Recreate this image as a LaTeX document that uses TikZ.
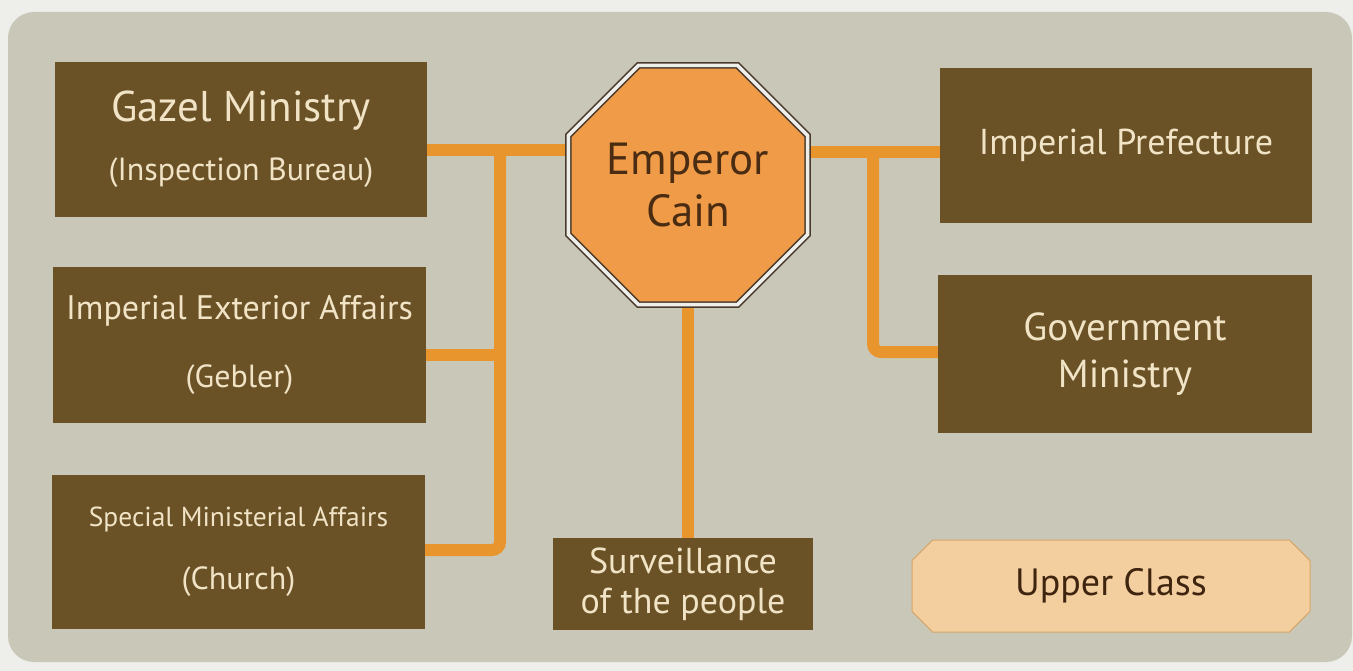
\documentclass[tikz,border=0pt]{standalone}
\usepackage{fontspec}
\setmainfont{PT Sans}
\usetikzlibrary{shapes.geometric,shapes.misc,backgrounds}
\definecolor{pagebg}{HTML}{EEEEEA}
\definecolor{panel}{HTML}{C9C8B8}
\definecolor{boxfill}{HTML}{6B5226}
\definecolor{boxtext}{HTML}{F0E3C6}
\definecolor{conn}{HTML}{E9952E}
\definecolor{octfill}{HTML}{F09B48}
\definecolor{octline}{HTML}{4A3A2C}
\definecolor{darktext}{HTML}{4A2C12}
\definecolor{upfill}{HTML}{F3CFA0}
\definecolor{upline}{HTML}{D6A56A}
\tikzset{
  box/.style={rectangle, fill=boxfill, text=boxtext, align=center, inner sep=0pt},
  connector/.style={draw=conn, line width=12pt},
}
\begin{document}
\begin{tikzpicture}[x=1pt,y=-1pt]
\useasboundingbox (0,0) rectangle (1353,671);

\node[box, minimum width=372pt, minimum height=155pt] (gazel) at (241,139.5)
  {{\fontsize{43}{48}\selectfont Gazel Ministry}\\[26pt]{\fontsize{32}{36}\selectfont (Inspection Bureau)}};
\node[box, minimum width=373pt, minimum height=156pt] (exterior) at (239.5,345)
  {{\fontsize{34}{40}\selectfont Imperial Exterior Affairs}\\[38pt]{\fontsize{32}{36}\selectfont (Gebler)}};
\node[box, minimum width=373pt, minimum height=154pt] (special) at (238.5,552)
  {{\fontsize{27.5}{32}\selectfont Special Ministerial Affairs}\\[34pt]{\fontsize{32}{36}\selectfont (Church)}};
\node[box, minimum width=260pt, minimum height=92pt, font=\fontsize{36}{40}\selectfont] (surv) at (683,584)
  {Surveillance\\of the people};
\node[box, minimum width=372pt, minimum height=155pt, font=\fontsize{36}{40}\selectfont] (prefecture) at (1126,145.5)
  {Imperial Prefecture};
\node[box, minimum width=374pt, minimum height=157pt, font=\fontsize{39}{47}\selectfont] (government) at (1125,354)
  {Government\\Ministry};
\node[regular polygon, regular polygon sides=8, minimum size=259pt, inner sep=0pt,
  fill=octfill, draw=octline, line width=1.6pt, double=pagebg, double distance=3.5pt,
  text=darktext, align=center, font=\fontsize{45}{52}\selectfont] (emp) at (688,185)
  {Emperor\\Cain};
\node[chamfered rectangle, chamfered rectangle corners={north west,south west,north east,south east},
  chamfered rectangle angle=45, chamfered rectangle xsep=30pt,
  minimum width=398pt, minimum height=92pt, inner sep=0pt,
  fill=upfill, draw=upline, line width=1pt, text=darktext!85!black,
  font=\fontsize{38}{44}\selectfont] (upper) at (1111,586) {Upper Class};

\coordinate (jl) at (500,150);
\coordinate (jlm) at (500,355);
\coordinate (jlb) at (500,550);
\coordinate (jr) at (873,152);
\coordinate (jrb) at (873,352);

\begin{scope}[on background layer]
\fill[pagebg] (0,0) rectangle (1353,671);
\fill[panel, rounded corners=26pt] (8,12) rectangle (1352,662);
\draw[connector] (gazel.east |- jl) -- (emp.west |- jl);
\draw[connector, rounded corners=8pt] (jl) -- (jlb) -- (special.east |- jlb);
\draw[connector] (exterior.east |- jlm) -- (jlm);
\draw[connector] (emp.east |- jr) -- (prefecture.west |- jr);
\draw[connector, rounded corners=8pt] (jr) -- (jrb) -- (government.west |- jrb);
\draw[connector] (emp.south) -- (emp.south |- surv.north);
\end{scope}
\end{tikzpicture}
\end{document}
